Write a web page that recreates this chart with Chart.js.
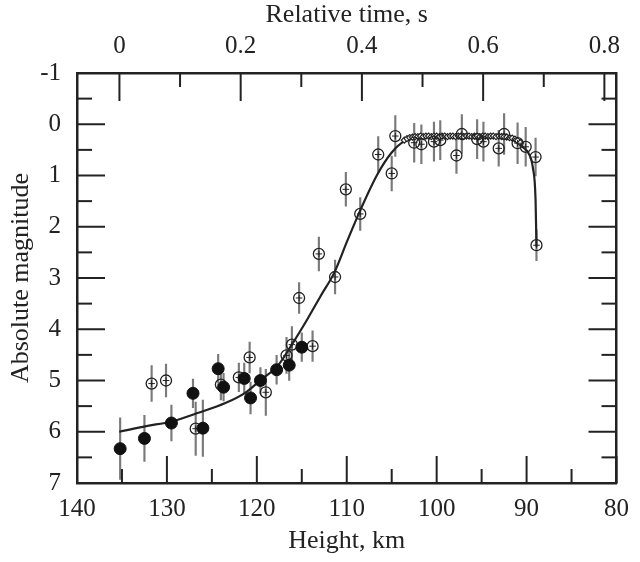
<!DOCTYPE html>
<html>
<head>
<meta charset="utf-8">
<script src="https://cdn.jsdelivr.net/npm/chart.js@4"></script>
<style>
  body { margin: 0; background: #fff; }
  #wrap { width: 640px; height: 562px; }
</style>
</head>
<body>
<div id="wrap"><canvas id="lightCurve"></canvas></div>
<script>
// open circles (with plus)
const openHeight = [131.7, 130.1, 126.8, 124.0, 122.0, 120.8, 119.0, 116.7, 116.1, 115.3, 113.8, 113.1, 111.3, 110.1, 108.5, 106.5, 105.0, 104.6, 102.5, 101.7, 100.3, 99.6, 97.8, 97.2, 95.5, 94.8, 93.1, 92.5, 91.0, 90.1, 89.0, 88.9]
const openMag = [5.06, 5.00, 5.94, 5.08, 4.94, 4.55, 5.23, 4.51, 4.30, 3.39, 4.33, 2.53, 2.98, 1.27, 1.75, 0.59, 0.96, 0.23, 0.36, 0.39, 0.34, 0.31, 0.61, 0.19, 0.29, 0.34, 0.47, 0.19, 0.37, 0.44, 0.64, 2.36]
const openErr = [0.35, 0.32, 0.52, 0.30, 0.28, 0.30, 0.45, 0.35, 0.35, 0.30, 0.30, 0.33, 0.33, 0.33, 0.32, 0.35, 0.34, 0.40, 0.38, 0.38, 0.38, 0.38, 0.35, 0.38, 0.38, 0.38, 0.35, 0.40, 0.40, 0.38, 0.37, 0.30]

// filled circles
const filledHeight = [135.2, 132.5, 129.5, 127.1, 126.0, 124.3, 123.7, 121.4, 120.7, 119.6, 117.8, 116.4, 115.0]
const filledMag = [6.33, 6.13, 5.83, 5.25, 5.93, 4.77, 5.13, 4.96, 5.34, 5.00, 4.79, 4.70, 4.35]
const filledErr = [0.60, 0.45, 0.35, 0.28, 0.55, 0.28, 0.27, 0.30, 0.31, 0.25, 0.28, 0.30, 0.28]

// model curve
const curveHeight = [135.3, 132.3, 129.5, 126.5, 123.5, 121.3, 119.5, 117.7, 116.0, 114.3, 112.9, 111.4, 110.0, 108.5, 106.6, 105.0, 103.5, 102.0, 100.0, 98.0, 96.0, 94.0, 92.0, 91.2, 90.4, 89.8, 89.3, 89.0, 88.9]
const curveMag = [6.00, 5.89, 5.80, 5.63, 5.44, 5.24, 4.98, 4.72, 4.27, 3.78, 3.35, 2.90, 2.30, 1.68, 0.98, 0.55, 0.32, 0.25, 0.23, 0.23, 0.23, 0.24, 0.27, 0.33, 0.45, 0.56, 0.85, 1.48, 2.39]

// small diamonds along the plateau
const diamondHeight = [103.6, 103.3, 103.0, 102.7, 102.4, 102.1, 101.8, 101.5, 101.2, 100.9, 100.6, 100.3, 100.0, 99.7, 99.4, 99.1, 98.8, 98.5, 98.2, 97.9, 97.6, 97.3, 97.0, 96.7, 96.4, 96.1, 95.8, 95.5, 95.2, 94.9, 94.6, 94.3, 94.0, 93.7, 93.4, 93.1, 92.8, 92.5, 92.2, 91.9, 91.6, 91.3, 91.0, 90.7]
const diamondMag = [0.31, 0.28, 0.26, 0.25, 0.24, 0.24, 0.23, 0.24, 0.23, 0.23, 0.24, 0.23, 0.23, 0.24, 0.23, 0.23, 0.24, 0.23, 0.23, 0.24, 0.23, 0.23, 0.24, 0.23, 0.23, 0.24, 0.23, 0.23, 0.24, 0.23, 0.23, 0.24, 0.23, 0.23, 0.24, 0.23, 0.24, 0.24, 0.25, 0.26, 0.27, 0.29, 0.32, 0.36]

// axes
const heightLabels = [140, 130, 120, 110, 100, 90, 80]
const heightTicks = [140, 135, 130, 125, 120, 115, 110, 105, 100, 95, 90, 85, 80]
const timeLabels = [0, 0.2, 0.4, 0.6, 0.8]
const timeTicks = [0, 0.1, 0.2, 0.3, 0.4, 0.5, 0.6, 0.7, 0.8]
const magLabels = [-1, 0, 1, 2, 3, 4, 5, 6, 7]
const magTicks = [-1, -0.5, 0, 0.5, 1, 1.5, 2, 2.5, 3, 3.5, 4, 4.5, 5, 5.5, 6, 6.5, 7]

const ink = '#222'
const tickFont = { family: 'Liberation Serif', size: 25 }
const titleFont = { family: 'Liberation Serif', size: 26 }

function pts(xs, ys) {
  return xs.map((x, i) => ({ x: x, y: ys[i] }))
}
function bars(xs, ys, es) {
  return xs.map((x, i) => ({ x: x, y: [ys[i] - es[i], ys[i] + es[i]] }))
}

// inward tick marks, long on labelled values
const tickMarks = {
  id: 'tickMarks',
  afterDraw(chart) {
    const { ctx, chartArea: a, scales } = chart
    ctx.save()
    ctx.strokeStyle = ink
    ctx.lineWidth = 2
    const seg = (x1, y1, x2, y2) => { ctx.beginPath(); ctx.moveTo(x1, y1); ctx.lineTo(x2, y2); ctx.stroke() }
    heightTicks.forEach(v => {
      const x = scales.x.getPixelForValue(v)
      const len = heightLabels.includes(v) ? 27 : 14
      seg(x, a.bottom, x, a.bottom - len)
    })
    timeTicks.forEach(v => {
      const x = scales.x2.getPixelForValue(v)
      const len = timeLabels.includes(v) ? 28 : 14
      seg(x, a.top, x, a.top + len)
    })
    magTicks.forEach(v => {
      const y = scales.y.getPixelForValue(v)
      const len = magLabels.includes(v) ? 28 : 15
      seg(a.left, y, a.left + len, y)
      seg(a.right, y, a.right - len, y)
    })
    ctx.restore()
  }
}

const ctx = document.getElementById('lightCurve')

const chart = new Chart(ctx, {
  type: 'line',
  data: {
    datasets: [
      {
        type: 'bar',
        data: bars(openHeight, openMag, openErr),
        backgroundColor: '#7a7a7a',
        barThickness: 1.5,
        grouped: false,
        order: 10
      },
      {
        type: 'bar',
        data: bars(filledHeight, filledMag, filledErr),
        backgroundColor: '#7a7a7a',
        barThickness: 1.5,
        grouped: false,
        order: 10
      },
      {
        type: 'line',
        data: pts(curveHeight, curveMag),
        borderColor: ink,
        borderWidth: 2.2,
        pointRadius: 0,
        cubicInterpolationMode: 'monotone',
        order: 6
      },
      {
        type: 'scatter',
        data: pts(diamondHeight, diamondMag),
        pointStyle: 'rectRot',
        pointRadius: 3,
        borderColor: '#222',
        borderWidth: 1.2,
        backgroundColor: '#fff',
        order: 5
      },
      {
        type: 'scatter',
        data: pts(openHeight, openMag),
        pointStyle: 'circle',
        pointRadius: 5.5,
        borderColor: ink,
        borderWidth: 1.3,
        backgroundColor: 'rgba(255,255,255,0)',
        order: 3
      },
      {
        type: 'scatter',
        data: pts(openHeight, openMag),
        pointStyle: 'cross',
        pointRadius: 3.3,
        borderColor: ink,
        borderWidth: 1,
        order: 3
      },
      {
        type: 'scatter',
        data: pts(filledHeight, filledMag),
        pointStyle: 'circle',
        pointRadius: 6,
        borderColor: '#111',
        borderWidth: 1,
        backgroundColor: '#111',
        order: 1
      }
    ]
  },
  options: {
    responsive: true,
    maintainAspectRatio: false,
    animation: false,
    layout: { padding: 0 },
    plugins: { legend: { display: false }, tooltip: { enabled: false } },
    scales: {
      x: {
        type: 'linear',
        position: 'bottom',
        reverse: true,
        min: 80,
        max: 140,
        offset: false,
        afterBuildTicks: s => { s.ticks = heightLabels.map(v => ({ value: v })) },
        afterFit: s => { s.height = 79 },
        grid: { display: false, drawTicks: false },
        border: { display: true, color: ink, width: 2.5 },
        ticks: { font: tickFont, color: ink, padding: 11, maxRotation: 0, callback: v => String(v) },
        title: { display: true, text: 'Height, km', font: titleFont, color: ink, padding: { top: 0, bottom: 5 } }
      },
      x2: {
        type: 'linear',
        position: 'top',
        min: -0.07,
        max: 0.82,
        afterBuildTicks: s => { s.ticks = timeLabels.map(v => ({ value: v })) },
        afterFit: s => { s.height = 73 },
        grid: { display: false, drawTicks: false },
        border: { display: true, color: ink, width: 2.5 },
        ticks: { font: tickFont, color: ink, padding: 12, maxRotation: 0, callback: v => String(v) },
        title: { display: true, text: 'Relative time, s', font: titleFont, color: ink, padding: { top: 0, bottom: 0 } }
      },
      y: {
        type: 'linear',
        position: 'left',
        reverse: true,
        min: -1,
        max: 7,
        afterBuildTicks: s => { s.ticks = magLabels.map(v => ({ value: v })) },
        afterFit: s => { s.width = 77 },
        grid: { display: false, drawTicks: false },
        border: { display: true, color: ink, width: 2.5 },
        ticks: { font: tickFont, color: ink, padding: 16, callback: v => String(v) },
        title: { display: true, text: 'Absolute magnitude', font: titleFont, color: ink, padding: { top: 6, bottom: 0 } }
      },
      y2: {
        type: 'linear',
        position: 'right',
        reverse: true,
        min: -1,
        max: 7,
        afterFit: s => { s.width = 18 },
        grid: { display: false, drawTicks: false },
        border: { display: true, color: ink, width: 2.5 },
        ticks: { display: false }
      }
    }
  },
  plugins: [tickMarks]
})
</script>
</body>
</html>
